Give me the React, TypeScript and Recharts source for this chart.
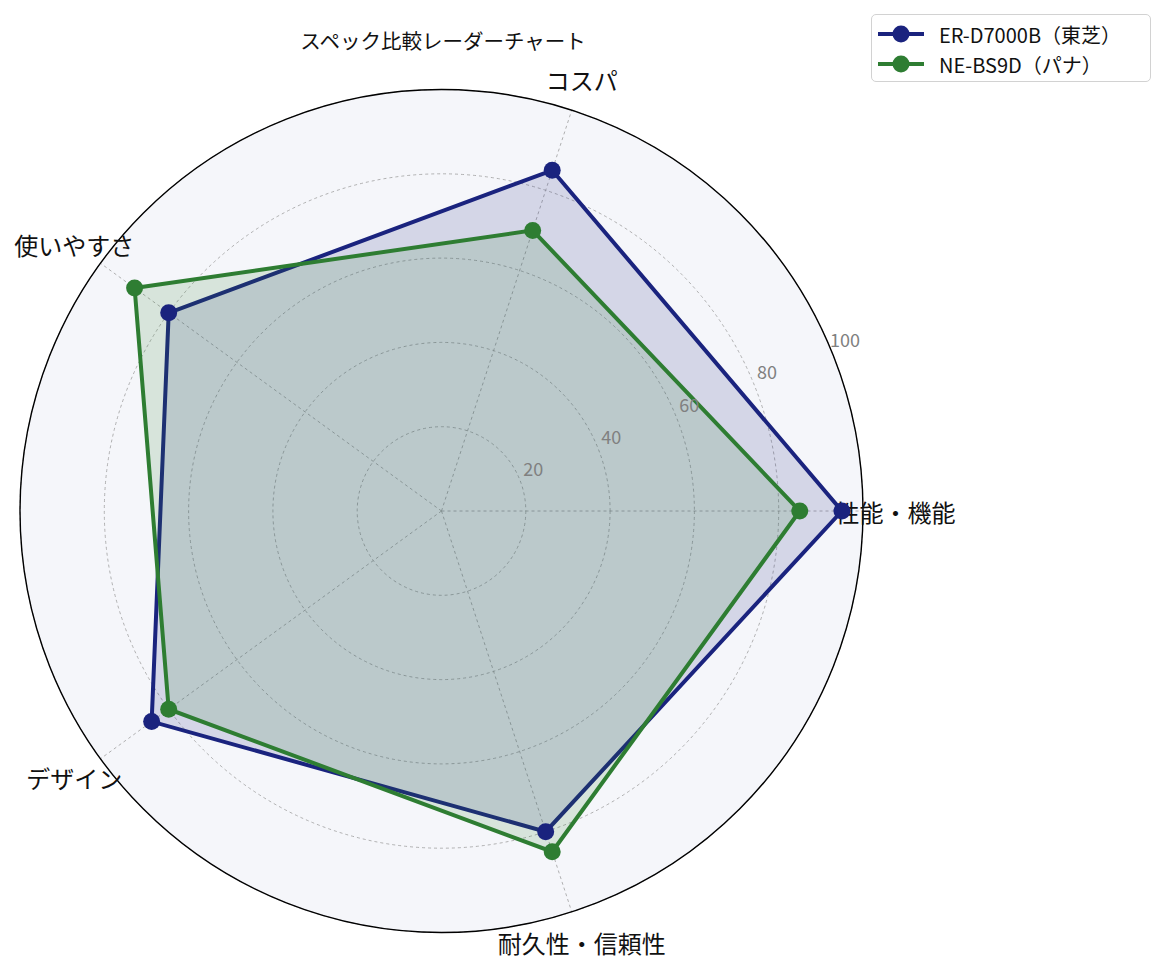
import React from 'react';
import {
  RadarChart,
  Radar,
  PolarGrid,
  PolarAngleAxis,
  PolarRadiusAxis,
  Legend,
} from 'recharts';

// categories listed clockwise starting from the right-hand axis
const SUBJECTS = ['性能・機能', '耐久性・信頼性', 'デザイン', '使いやすさ', 'コスパ'];
const TOSHIBA = [95, 80, 85, 80, 85];
const PANA = [85, 85, 80, 90, 70];
const RADIAL_TICKS = [20, 40, 60, 80, 100];

const SERIES_NAMES = ['ER-D7000B（東芝）', 'NE-BS9D（パナ）'];
const NAVY = '#1a237e';
const GREEN = '#2e7d32';

const data = SUBJECTS.map((subject, i) => ({
  subject,
  toshiba: TOSHIBA[i],
  pana: PANA[i],
}));

const W = 1165;
const H = 968;
const CX = 441.5;
const CY = 511;
const R = 421.5;
const FONT = "'Noto Sans CJK JP', 'Noto Sans', sans-serif";
const RAD = Math.PI / 180;

// place the category label further out along the direction recharts gives
const AngleTick = (props: any) => {
  const a = Math.atan2(CY - props.y, props.x - CX);
  const x = CX + 454 * Math.cos(a);
  const y = CY - 454 * Math.sin(a);
  return (
    <text x={x} y={y} textAnchor="middle" dominantBaseline="central" fontSize={24} fill="#111" fontFamily={FONT}>
      {props.payload.value}
    </text>
  );
};

const RadiusTick = (props: any) => {
  const c = props.payload.coordinate;
  const a = 22.5 * RAD;
  const along = c + 17;
  const x = CX + along * Math.cos(a) - 4.5 * Math.sin(a);
  const y = CY - along * Math.sin(a) - 4.5 * Math.cos(a);
  return (
    <text x={x} y={y} textAnchor="middle" dominantBaseline="central" fontSize={18} fill="#808080" fontFamily={FONT}>
      {props.payload.value}
    </text>
  );
};

const LegendBox = (props: any) => {
  const items = props.payload && props.payload.length
    ? props.payload
    : SERIES_NAMES.map((n, i) => ({ value: n, color: i ? GREEN : NAVY }));
  return (
    <div
      style={{
        border: '1.5px solid #d2d2d2',
        borderRadius: 5,
        background: 'rgba(255,255,255,0.8)',
        padding: '4px 10px 4px 5px',
        fontFamily: FONT,
        boxSizing: 'border-box',
        width: 280,
        height: 68,
      }}
    >
      {items.map((it: any) => (
        <div key={it.value} style={{ display: 'flex', alignItems: 'center', height: 30 }}>
          <svg width={48} height={20} style={{ marginRight: 14 }}>
            <line x1={1} y1={10} x2={47} y2={10} stroke={it.color} strokeWidth={4} />
            <circle cx={24} cy={10} r={8.5} fill={it.color} />
          </svg>
          <span style={{ fontSize: 20, color: '#111', whiteSpace: 'nowrap' }}>{it.value}</span>
        </div>
      ))}
    </div>
  );
};

export default function App() {
  return (
    <div style={{ position: 'absolute', left: 0, top: 0, width: W, height: H, background: '#fff' }}>
      <div
        style={{
          position: 'absolute',
          left: CX - R,
          top: CY - R,
          width: 2 * R,
          height: 2 * R,
          borderRadius: '50%',
          background: '#f5f6fa',
        }}
      />
      <div
        style={{
          position: 'absolute',
          left: 0,
          width: 886,
          top: 30,
          textAlign: 'center',
          fontSize: 20.5,
          lineHeight: '20px',
          fontFamily: FONT,
          color: '#111',
        }}
      >
        スペック比較レーダーチャート
      </div>
      <div style={{ position: 'absolute', left: 0, top: 0 }}>
        <RadarChart
          width={W}
          height={H}
          cx={CX}
          cy={CY}
          outerRadius={R}
          startAngle={0}
          endAngle={-360}
          data={data}
          margin={{ top: 0, right: 0, bottom: 0, left: 0 }}
        >
          <PolarGrid gridType="circle" stroke="#9e9e9e" strokeWidth={0.8} strokeDasharray="3 3" />
          <PolarAngleAxis
            dataKey="subject"
            tick={AngleTick}
            tickLine={false}
            axisLineType="circle"
            axisLine={{ stroke: '#000', strokeWidth: 1.4 }}
          />
          <PolarRadiusAxis
            angle={22.5}
            domain={[0, 100]}
            ticks={RADIAL_TICKS}
            tick={RadiusTick}
            axisLine={false}
            tickLine={false}
          />
          <Radar
            name={SERIES_NAMES[0]}
            dataKey="toshiba"
            stroke={NAVY}
            strokeWidth={4}
            fill={NAVY}
            fillOpacity={0.15}
            dot={{ r: 8.5, fill: NAVY, fillOpacity: 1, stroke: 'none' }}
            isAnimationActive={false}
          />
          <Radar
            name={SERIES_NAMES[1]}
            dataKey="pana"
            stroke={GREEN}
            strokeWidth={4}
            fill={GREEN}
            fillOpacity={0.15}
            dot={{ r: 8.5, fill: GREEN, fillOpacity: 1, stroke: 'none' }}
            isAnimationActive={false}
          />
          <Legend
            content={LegendBox}
            wrapperStyle={{ position: 'absolute', left: 871, top: 14, width: 280, height: 68 }}
          />
        </RadarChart>
      </div>
    </div>
  );
}
